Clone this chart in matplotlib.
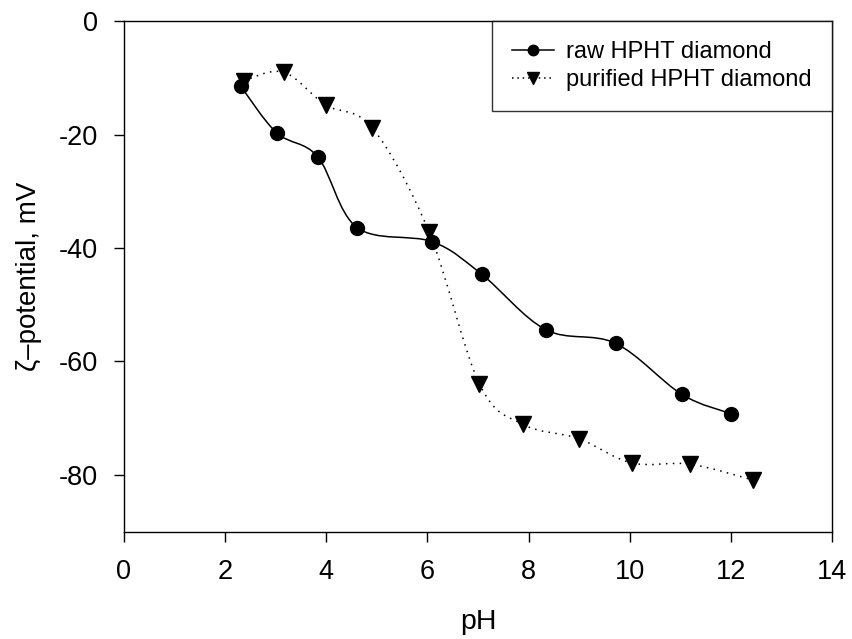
import numpy as np
import matplotlib
matplotlib.use("Agg")
import matplotlib.pyplot as plt
from matplotlib.path import Path
from matplotlib.patches import PathPatch

plt.rcParams['font.family'] = ['Liberation Sans', 'DejaVu Sans']
plt.rcParams['axes.unicode_minus'] = False

# raw HPHT diamond
ph_raw = [2.31, 3.02, 3.83, 4.61, 6.10, 7.07, 8.34, 9.72, 11.03, 12.00]
zeta_raw = [-11.5, -19.7, -23.9, -36.4, -38.9, -44.6, -54.4, -56.8, -65.8, -69.2]

# purified HPHT diamond
ph_pur = [2.37, 3.16, 3.99, 4.91, 6.03, 7.03, 7.89, 8.99, 10.04, 11.19, 12.44]
zeta_pur = [-10.5, -9.0, -14.8, -18.8, -37.1, -64.0, -71.1, -73.6, -77.9, -78.1, -80.9]

labels = ["raw HPHT diamond", "purified HPHT diamond"]


def smooth_path(x, y):
    # Catmull-Rom curve through the points, given as cubic bezier segments
    pts = np.column_stack([np.asarray(x, float), np.asarray(y, float)])
    verts = [pts[0]]
    codes = [Path.MOVETO]
    n = len(pts)
    for i in range(n - 1):
        p0 = pts[i - 1] if i > 0 else pts[i]
        p1 = pts[i]
        p2 = pts[i + 1]
        p3 = pts[i + 2] if i + 2 < n else pts[i + 1]
        c1 = p1 + (p2 - p0) / 6.0
        c2 = p2 - (p3 - p1) / 6.0
        verts += [c1, c2, p2]
        codes += [Path.CURVE4] * 3
    return Path(verts, codes)


fig = plt.figure(figsize=(8.52, 6.39), dpi=100)
ax = fig.add_axes([0.1455, 0.168, 0.831, 0.799])

ax.add_patch(PathPatch(smooth_path(ph_raw, zeta_raw), fill=False,
                       edgecolor='black', lw=1.1))
ax.add_patch(PathPatch(smooth_path(ph_pur, zeta_pur), fill=False,
                       edgecolor='black', lw=1.1, linestyle=(0, (1, 3.5))))

ax.plot(ph_raw, zeta_raw, 'o', color='black', ms=10)
ax.plot(ph_pur, zeta_pur, 'v', color='black', ms=11)

# legend handles
h1, = ax.plot([], [], '-o', color='black', ms=7.5, lw=1.1)
h2, = ax.plot([], [], linestyle=(0, (1, 2.5)), marker='v', color='black',
              ms=8, lw=1.1)
leg = ax.legend([h1, h2], labels, loc='upper right', fontsize=17,
                frameon=True, fancybox=False, borderaxespad=0,
                handlelength=1.8, handletextpad=0.5, borderpad=0.85,
                labelspacing=0.25)
leg.get_frame().set_edgecolor('black')
leg.get_frame().set_linewidth(1.0)

ax.set_xlim(0, 14)
ax.set_ylim(-90, 0)
ax.set_xticks(np.arange(0, 15, 2))
ax.set_yticks([0, -20, -40, -60, -80])
ax.tick_params(direction='out', length=7, width=1, labelsize=19.5,
               top=False, right=False)
ax.tick_params(axis='x', pad=13)
ax.tick_params(axis='y', pad=12)
for s in ax.spines.values():
    s.set_linewidth(1.0)

ax.set_xlabel("pH", fontsize=20.5, labelpad=17)
ax.set_ylabel("ζ–potential, mV", fontsize=20, labelpad=12)

fig.savefig("out.png", dpi=100)
